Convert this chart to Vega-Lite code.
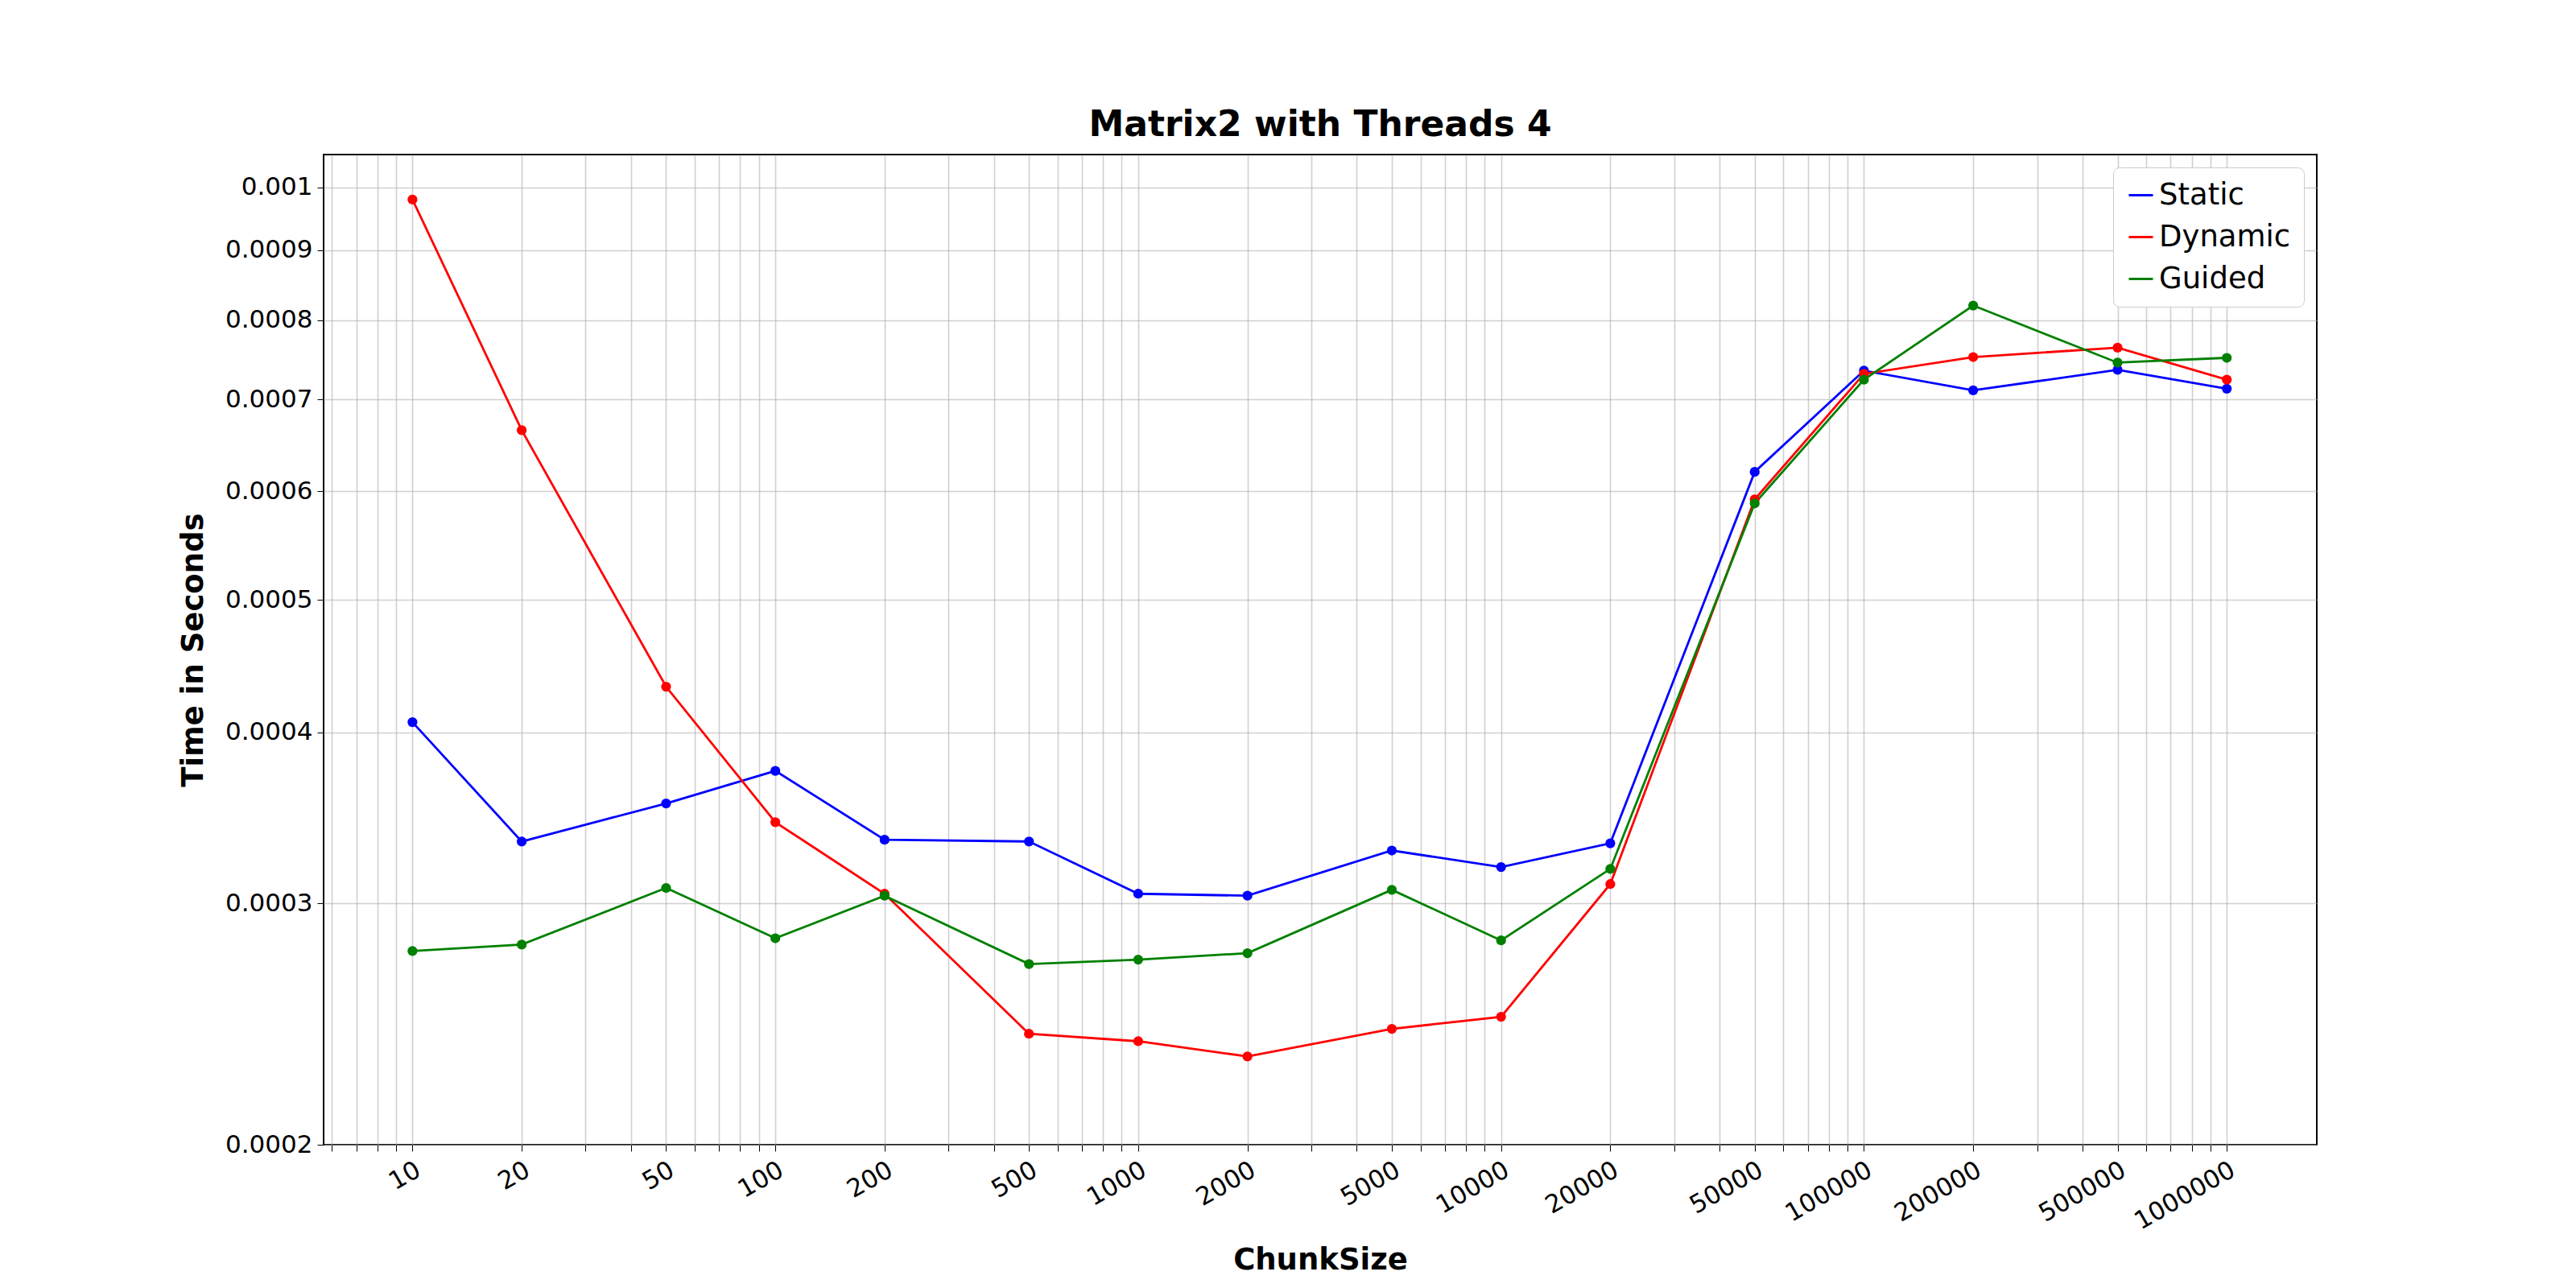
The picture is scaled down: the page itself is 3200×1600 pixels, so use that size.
{
"$schema":"https://vega.github.io/schema/vega-lite/v6.json",
"width":2476,"height":1230,
"autosize":{"type":"none"},
"padding":{"left":402,"top":192,"right":322,"bottom":178},
"background":"white",
"title":{"text":"Matrix2 with Threads 4","font":"DejaVu Sans","fontSize":44,"fontWeight":"bold","offset":14,"color":"black"},
"config":{"view":{"stroke":"black","strokeWidth":2},"font":"DejaVu Sans"},
"data":{"values":[
{"c":10,"s":"Static","t":0.000407},{"c":20,"s":"Static","t":0.000333},{"c":50,"s":"Static","t":0.000355},{"c":100,"s":"Static","t":0.000375},{"c":200,"s":"Static","t":0.000334},{"c":500,"s":"Static","t":0.000333},{"c":1000,"s":"Static","t":0.000305},{"c":2000,"s":"Static","t":0.000304},{"c":5000,"s":"Static","t":0.000328},{"c":10000,"s":"Static","t":0.000319},{"c":20000,"s":"Static","t":0.000332},{"c":50000,"s":"Static","t":0.00062},{"c":100000,"s":"Static","t":0.000735},{"c":200000,"s":"Static","t":0.000711},{"c":500000,"s":"Static","t":0.000736},{"c":1000000,"s":"Static","t":0.000713},
{"c":10,"s":"Dynamic","t":0.00098},{"c":20,"s":"Dynamic","t":0.000665},{"c":50,"s":"Dynamic","t":0.000432},{"c":100,"s":"Dynamic","t":0.000344},{"c":200,"s":"Dynamic","t":0.000305},{"c":500,"s":"Dynamic","t":0.000241},{"c":1000,"s":"Dynamic","t":0.000238},{"c":2000,"s":"Dynamic","t":0.000232},{"c":5000,"s":"Dynamic","t":0.000243},{"c":10000,"s":"Dynamic","t":0.000248},{"c":20000,"s":"Dynamic","t":0.00031},{"c":50000,"s":"Dynamic","t":0.000592},{"c":100000,"s":"Dynamic","t":0.000731},{"c":200000,"s":"Dynamic","t":0.000752},{"c":500000,"s":"Dynamic","t":0.000764},{"c":1000000,"s":"Dynamic","t":0.000724},
{"c":10,"s":"Guided","t":0.000277},{"c":20,"s":"Guided","t":0.00028},{"c":50,"s":"Guided","t":0.000308},{"c":100,"s":"Guided","t":0.000283},{"c":200,"s":"Guided","t":0.000304},{"c":500,"s":"Guided","t":0.000271},{"c":1000,"s":"Guided","t":0.000273},{"c":2000,"s":"Guided","t":0.000276},{"c":5000,"s":"Guided","t":0.000307},{"c":10000,"s":"Guided","t":0.000282},{"c":20000,"s":"Guided","t":0.000318},{"c":50000,"s":"Guided","t":0.000588},{"c":100000,"s":"Guided","t":0.000724},{"c":200000,"s":"Guided","t":0.00082},{"c":500000,"s":"Guided","t":0.000745},{"c":1000000,"s":"Guided","t":0.000751}
]},
"mark":{"type":"line","strokeWidth":2.8,"point":{"filled":true,"size":150}},
"encoding":{
"x":{"field":"c","type":"quantitative","title":"ChunkSize",
 "scale":{"type":"log","domain":[5.69,1770000],"nice":false},
 "axis":{"values":[6,7,8,9,10,20,30,40,50,60,70,80,90,100,200,300,400,500,600,700,800,900,1000,2000,3000,4000,5000,6000,7000,8000,9000,10000,20000,30000,40000,50000,60000,70000,80000,90000,100000,200000,300000,400000,500000,600000,700000,800000,900000,1000000],
  "labelExpr":"indexof([10,20,50,100,200,500,1000,2000,5000,10000,20000,50000,100000,200000,500000,1000000], datum.value) >= 0 ? format(datum.value,'d') : ''",
  "labelAngle":-30,"labelFontSize":31,"labelColor":"black","labelPadding":8,"labelOverlap":false,"labelFlush":false,
  "gridColor":"#b0b0b0","gridOpacity":0.6,"gridWidth":1.6,"tickColor":"black","tickSize":8,"domain":false,
  "titleFontSize":37,"titleFontWeight":"bold","titleColor":"black","titlePadding":14}},
"y":{"field":"t","type":"quantitative","title":"Time in Seconds",
 "scale":{"type":"log","domain":[0.0002,0.001057],"nice":false},
 "axis":{"values":[0.0002,0.0003,0.0004,0.0005,0.0006,0.0007,0.0008,0.0009,0.001],
  "labelExpr":"format(datum.value,'.4~f')",
  "labelFontSize":31,"labelColor":"black","labelPadding":6,
  "gridColor":"#b0b0b0","gridOpacity":0.6,"gridWidth":1.6,"tickColor":"black","tickSize":8,"domain":false,
  "titleFontSize":37,"titleFontWeight":"bold","titleColor":"black","titlePadding":20}},
"color":{"field":"s","type":"nominal","title":null,"sort":["Static","Dynamic","Guided"],
 "scale":{"domain":["Static","Dynamic","Guided"],"range":["#0000ff","#ff0000","#008000"]},
 "legend":{"orient":"top-right","offset":16,"labelFontSize":37,"labelLimit":400,"labelColor":"black","symbolSize":900,"symbolStrokeWidth":3,"symbolType":"stroke","rowPadding":14,
  "strokeColor":"#cccccc","fillColor":"white","padding":16,"cornerRadius":8}}
}
}
